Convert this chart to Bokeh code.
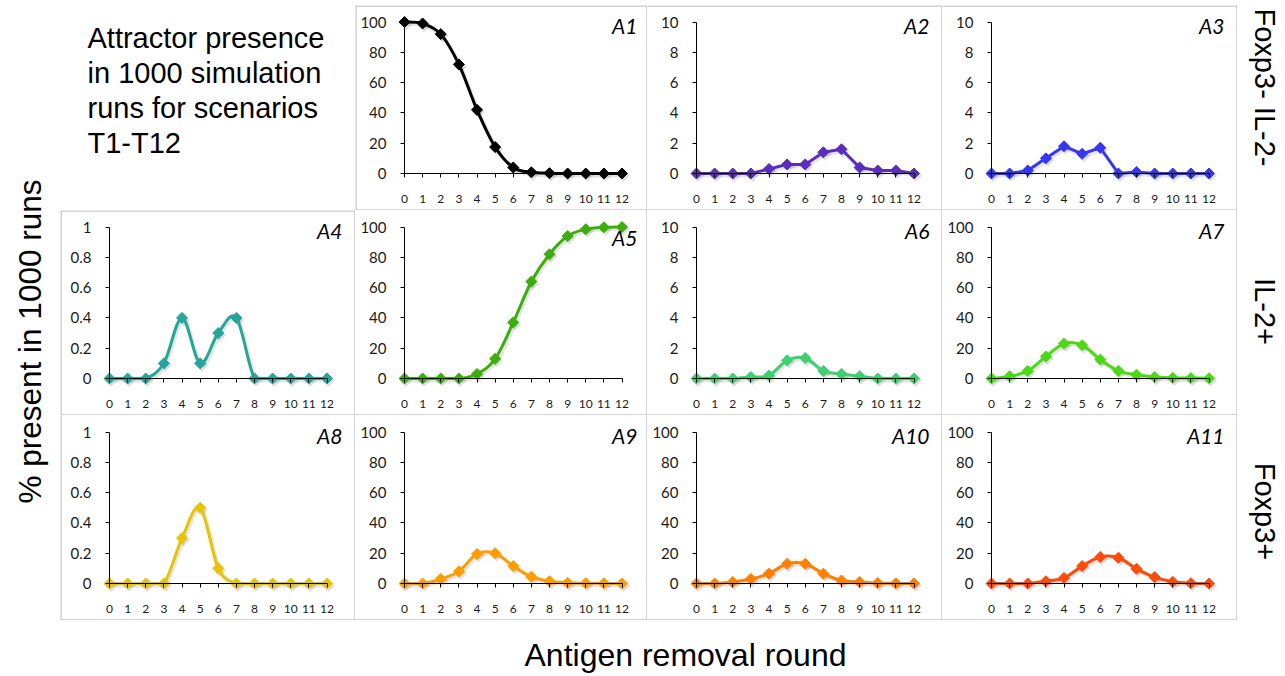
import math
from bokeh.plotting import figure
from bokeh.models import Range1d, LinearAxis, FixedTicker, Label, Spacer, Span
from bokeh.layouts import row, column
from bokeh.embed import file_html
from bokeh.resources import INLINE
from bokeh.core.properties import value

# ---------------- data ----------------
ROUNDS = list(range(13))
X_TICK_LABELS = [str(r) for r in ROUNDS]

A1 = [100, 99, 92, 72, 42, 17.5, 4, 0.8, 0.2, 0, 0, 0, 0]
A2 = [0, 0, 0, 0, 0.3, 0.6, 0.6, 1.4, 1.6, 0.4, 0.2, 0.2, 0]
A3 = [0, 0, 0.2, 1.0, 1.8, 1.3, 1.7, 0, 0.1, 0, 0, 0, 0]
A4 = [0, 0, 0, 0.1, 0.4, 0.1, 0.3, 0.4, 0, 0, 0, 0, 0]
A5 = [0, 0, 0, 0, 3, 13, 37, 64, 82, 94, 98.5, 99.8, 100]
A6 = [0, 0, 0, 0.1, 0.2, 1.2, 1.35, 0.5, 0.3, 0.15, 0, 0, 0]
A7 = [0, 1.5, 5, 14.5, 23, 22, 12.5, 5, 2.5, 1, 0.5, 0.3, 0.2]
A8 = [0, 0, 0, 0, 0.3, 0.5, 0.1, 0, 0, 0, 0, 0, 0]
A9 = [0, 0, 3, 8, 19.5, 20, 11.5, 4.5, 1.5, 0.5, 0.2, 0.1, 0]
A10 = [0, 0, 1, 3, 6.5, 13, 13, 6.5, 2, 1, 0.3, 0.1, 0]
A11 = [0, 0, 0, 1.5, 3.7, 11.5, 17.5, 17, 9.7, 4.2, 1.1, 0.2, 0]

PANEL_NAMES = ["A1", "A2", "A3", "A4", "A5", "A6", "A7", "A8", "A9", "A10", "A11"]
PANEL_SERIES = [A1, A2, A3, A4, A5, A6, A7, A8, A9, A10, A11]
PANEL_YMAX = [100, 10, 10, 1, 100, 10, 100, 1, 100, 100, 100]
PANEL_COLORS = ["#000000", "#5a2dbf", "#3636f2", "#26a59a", "#3cae0a", "#3dd070",
                "#4cd915", "#e8c300", "#ff9c00", "#ff7f00", "#ff4a0a"]
PANEL_SMOOTH = [True, False, False, True, True, True, True, True, True, True, True]

Y_TICKS_100 = [0, 20, 40, 60, 80, 100]
Y_TICK_LABELS_100 = ["0", "20", "40", "60", "80", "100"]
Y_TICKS_10 = [0, 2, 4, 6, 8, 10]
Y_TICK_LABELS_10 = ["0", "2", "4", "6", "8", "10"]
Y_TICKS_1 = [0, 0.2, 0.4, 0.6, 0.8, 1]
Y_TICK_LABELS_1 = ["0", "0.2", "0.4", "0.6", "0.8", "1"]
Y_TICKS = {100: (Y_TICKS_100, Y_TICK_LABELS_100),
           10: (Y_TICKS_10, Y_TICK_LABELS_10),
           1: (Y_TICKS_1, Y_TICK_LABELS_1)}

TITLE_LINES = ["Attractor presence", "in 1000 simulation", "runs for scenarios", "T1-T12"]
ROW_LABELS = ["Foxp3- IL-2-", "IL-2+", "Foxp3+"]
Y_AXIS_TITLE = "% present in 1000 runs"
X_AXIS_TITLE = "Antigen removal round"

# ---------------- geometry ----------------
COL_W = [295, 292, 295, 295]
ROW_H = 205
AX_X0 = 49        # px from panel left to x = 0
PX_PER_X = 18.125
AX_Y0 = 168       # px from panel top to y = 0
Y_SPAN = 151.5    # px from y = 0 to y = ymax
BORDER_COLOR = "#a9a9a9"
BIG_FONT = "Liberation Sans"
TICK_FONT = "Lato"
SHADOW_DX, SHADOW_DY = 1.5, 2.0   # px, drop shadow offset


def blank_fig(w, h):
    p = figure(width=w, height=h, x_range=Range1d(0, w), y_range=Range1d(0, h),
               toolbar_location=None, output_backend="svg",
               x_axis_type=None, y_axis_type=None,
               min_border_left=0, min_border_right=0, min_border_top=0, min_border_bottom=0)
    p.outline_line_color = None
    p.background_fill_color = "white"
    p.border_fill_color = "white"
    return p


def bezier_parts(xs, ys):
    n = len(xs)
    out = {k: [] for k in ("x0", "y0", "x1", "y1", "cx0", "cy0", "cx1", "cy1")}
    for i in range(n - 1):
        a = i - 1 if i > 0 else i
        d = i + 2 if i + 2 < n else i + 1
        out["x0"].append(xs[i]); out["y0"].append(ys[i])
        out["x1"].append(xs[i + 1]); out["y1"].append(ys[i + 1])
        out["cx0"].append(xs[i] + (xs[i + 1] - xs[a]) / 6)
        out["cy0"].append(max(0, ys[i] + (ys[i + 1] - ys[a]) / 6))
        out["cx1"].append(xs[i + 1] - (xs[d] - xs[i]) / 6)
        out["cy1"].append(max(0, ys[i + 1] - (ys[d] - ys[i]) / 6))
    return out


def shifted(parts, dx, dy):
    out = {}
    for k, v in parts.items():
        off = dx if k.startswith(("x", "cx")) else dy
        out[k] = [t + off for t in v]
    return out


def panel(idx, r, c):
    W = COL_W[c]
    H = ROW_H
    ymax = PANEL_YMAX[idx]
    sx = lambda px: (px - AX_X0) / PX_PER_X
    sy = lambda py: ymax * (AX_Y0 - py) / Y_SPAN
    p = figure(width=W, height=H,
               x_range=Range1d(sx(0), sx(W)), y_range=Range1d(sy(H), sy(0)),
               toolbar_location=None, output_backend="svg",
               x_axis_type=None, y_axis_type=None,
               min_border_left=0, min_border_right=0, min_border_top=0, min_border_bottom=0)
    p.outline_line_color = None
    p.background_fill_color = "white"
    p.border_fill_color = "white"

    # panel borders
    has_top = r == 0 or (r == 1 and c == 0)
    has_left = c == 0 or (r == 0 and c == 1)
    p.add_layout(Span(location=sx(W - 0.5), dimension="height", line_color=BORDER_COLOR, line_width=1))
    p.add_layout(Span(location=sy(H - 0.5), dimension="width", line_color=BORDER_COLOR, line_width=1))
    if has_top:
        p.add_layout(Span(location=sy(0.5), dimension="width", line_color=BORDER_COLOR, line_width=1))
    if has_left:
        p.add_layout(Span(location=sx(0.5), dimension="height", line_color=BORDER_COLOR, line_width=1))

    ys = PANEL_SERIES[idx]
    color = PANEL_COLORS[idx]
    dx = SHADOW_DX / PX_PER_X
    dy = -SHADOW_DY * ymax / Y_SPAN

    # soft drop shadow (drawn first, under the axes and series)
    if PANEL_SMOOTH[idx]:
        p.bezier(line_color="black", line_alpha=0.10, line_width=4,
                 **shifted(bezier_parts(ROUNDS, ys), dx, dy))
    else:
        p.line([x + dx for x in ROUNDS], [y + dy for y in ys],
               line_color="black", line_alpha=0.10, line_width=4)
    p.scatter([x + dx for x in ROUNDS], [y + dy for y in ys], marker="square",
              angle=math.pi / 4, size=9, fill_color="black", fill_alpha=0.13,
              line_color=None)

    yt, ylab = Y_TICKS[ymax]
    common = dict(axis_line_color="black", axis_line_width=1,
                  major_tick_in=0, major_tick_out=4, major_tick_line_color="black",
                  minor_tick_in=0, minor_tick_out=0,
                  major_label_text_font=TICK_FONT, major_label_text_color="#1a1a1a")
    xaxis = LinearAxis(fixed_location=0, bounds=(0, 12),
                       ticker=FixedTicker(ticks=ROUNDS),
                       major_label_overrides=dict(zip(ROUNDS, X_TICK_LABELS)),
                       major_label_text_font_size="12px", major_label_standoff=17, **common)
    yaxis = LinearAxis(fixed_location=0, bounds=(0, ymax),
                       ticker=FixedTicker(ticks=yt),
                       major_label_overrides=dict(zip(yt, ylab)),
                       major_label_text_font_size="15px", major_label_standoff=14, **common)
    p.add_layout(xaxis, "below")
    p.add_layout(yaxis, "left")

    if PANEL_SMOOTH[idx]:
        p.bezier(line_color=color, line_width=3, **bezier_parts(ROUNDS, ys))
    else:
        p.line(ROUNDS, ys, line_color=color, line_width=3)
    p.scatter(ROUNDS, ys, marker="square", angle=math.pi / 4, size=7.8,
              fill_color=color, line_color=color)

    mid_px = 27 if PANEL_NAMES[idx] == "A5" else 19.5
    lab = Label(x=sx(282), y=sy(mid_px),
                text=PANEL_NAMES[idx], text_align="right", text_baseline="middle",
                text_font=TICK_FONT, text_font_style="italic",
                text_font_size="21px", text_color="black")
    p.add_layout(lab)
    return p


# title cell
tcell = blank_fig(COL_W[0], ROW_H)
tcell.text(x=[27] * len(TITLE_LINES),
           y=[ROW_H - m for m in (32, 67, 102, 137)],
           text=TITLE_LINES, text_font=value(BIG_FONT), text_font_size=value("29px"),
           text_align=value("left"), text_baseline=value("middle"),
           text_color=value("black"))

grid_rows = []
idx = 0
for r in range(3):
    cells = []
    for c in range(4):
        if r == 0 and c == 0:
            cells.append(tcell)
            continue
        cells.append(panel(idx, r, c))
        idx += 1
    grid_rows.append(row(cells, spacing=0))

grid = column([Spacer(width=1177, height=5)] + grid_rows, spacing=0)

# left title
left = blank_fig(60, 620)
left.text(x=[29], y=[620 - 341], text=[Y_AXIS_TITLE], angle=math.pi / 2,
          text_font=value(BIG_FONT), text_font_size=value("31.5px"),
          text_align=value("center"), text_baseline=value("middle"),
          text_color=value("black"))

# right row labels
right = blank_fig(48, 620)
right.text(x=[27, 27, 27], y=[620 - 87, 620 - 311, 620 - 511], text=ROW_LABELS,
           angle=-math.pi / 2,
           text_font=value(BIG_FONT), text_font_size=value("29px"),
           text_align=value("center"), text_baseline=value("middle"),
           text_color=value("black"))

# bottom title
bottom = blank_fig(1285, 56)
bottom.text(x=[685], y=[56 - 34], text=[X_AXIS_TITLE],
            text_font=value(BIG_FONT), text_font_size=value("32px"),
            text_align=value("center"), text_baseline=value("middle"),
            text_color=value("black"))

layout = column([row([left, grid, right], spacing=0), bottom], spacing=0)

open("out.html", "w").write(file_html(layout, INLINE))
